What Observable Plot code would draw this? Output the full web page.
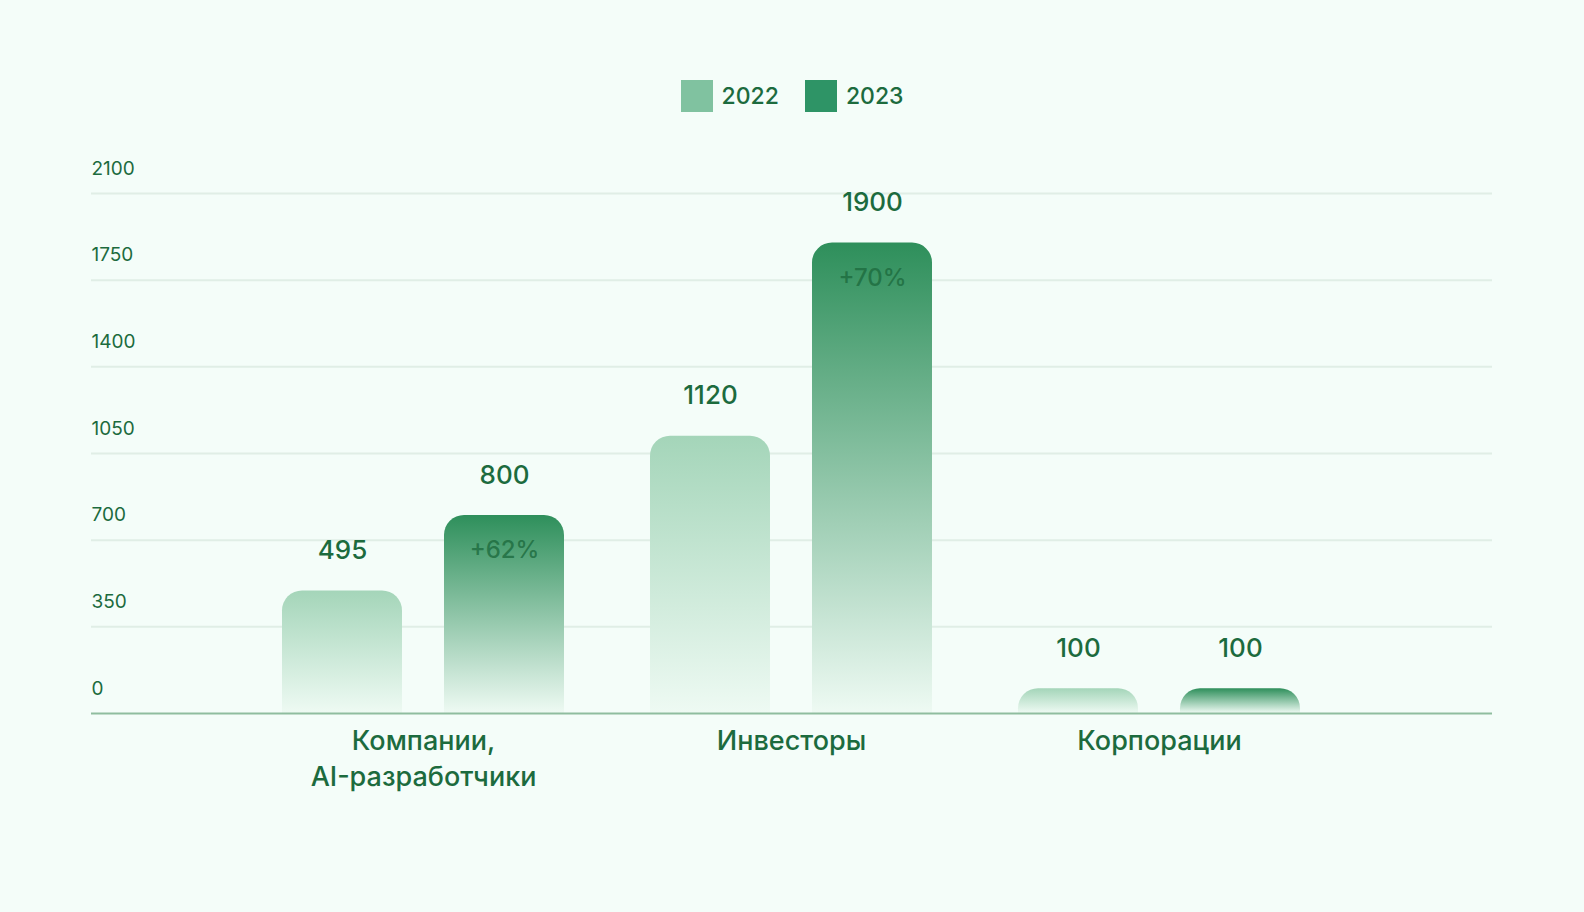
<!DOCTYPE html>
<html>
<head>
<meta charset="utf-8">
<script src="https://cdn.jsdelivr.net/npm/d3@7"></script>
<script src="https://cdn.jsdelivr.net/npm/@observablehq/plot@0.6"></script>
<style>
  html, body { margin: 0; padding: 0; background: #f4fdf9; width: 1584px; height: 912px; overflow: hidden; font-family: Inter, "Noto Sans", sans-serif; }
  #legend { height: 130px; box-sizing: border-box; padding-top: 80px; display: flex; justify-content: center; gap: 26px; }
  .item { display: flex; align-items: center; gap: 9px; height: 32px; font-size: 23px; font-weight: 500; color: #1c6b3e; }
  .sw { width: 32px; height: 32px; }
  #chart svg { display: block; }
</style>
</head>
<body>
<div id="legend"></div>
<div id="chart"></div>
<script>
const categories = ["Компании,\nAI-разработчики", "Инвесторы", "Корпорации"];
const years = ["2022", "2023"];
const yearColors = ["#80c2a0", "#2e9466"];
const values2022 = [495, 1120, 100];
const values2023 = [800, 1900, 100];
const growth2023 = ["+62%", "+70%", ""];
const yTicks = [0, 350, 700, 1050, 1400, 1750, 2100];

// legend
const legend = d3.select("#legend");
years.forEach((y, i) => {
  const it = legend.append("div").attr("class", "item");
  it.append("div").attr("class", "sw").style("background", yearColors[i]);
  it.append("span").text(y);
});

const rows2022 = categories.map((c, i) => ({category: c, value: values2022[i]}));
const rows2023 = categories.map((c, i) => ({category: c, value: values2023[i], growth: growth2023[i]}));

const textColor = "#1c6b3e";

const chart = Plot.plot({
  width: 1584,
  height: 782,
  marginTop: 63,
  marginBottom: 199,
  marginLeft: 91,
  marginRight: 92,
  style: {background: "transparent", fontFamily: "Inter, 'Noto Sans', sans-serif", color: textColor},
  x: {domain: categories, range: [239, 1343], padding: 0, label: null},
  y: {domain: [0, 2100], axis: null},
  marks: [
    Plot.ruleY(yTicks.filter(d => d > 0), {stroke: "#e0eee6", strokeWidth: 2}),
    Plot.barY(rows2022, {x: "category", y: "value", fill: "url(#g2022)", insetLeft: 43, insetRight: 205, ry1: 20}),
    Plot.barY(rows2023, {x: "category", y: "value", fill: "url(#g2023)", insetLeft: 205, insetRight: 43, ry1: 20}),
    Plot.ruleY([0], {stroke: "#8fbd9f", strokeWidth: 2}),
    Plot.text(yTicks, {y: d => d, text: d => String(d), frameAnchor: "left", textAnchor: "start", dy: -25, fontSize: 19, fontWeight: 400, fill: textColor}),
    Plot.text(rows2022, {x: "category", y: "value", text: d => String(d.value), dx: -81, dy: -40, fontSize: 26, fontWeight: 500, fill: textColor}),
    Plot.text(rows2023, {x: "category", y: "value", text: d => String(d.value), dx: 81, dy: -40, fontSize: 26, fontWeight: 500, fill: textColor}),
    Plot.text(rows2023.filter(d => d.growth), {x: "category", y: "value", text: "growth", dx: 81, dy: 35, fontSize: 24, fontWeight: 500, fill: "#1d6b3e", fillOpacity: 0.8}),
    Plot.axisX({tickSize: 0, tickPadding: 12, fontSize: 27, fontWeight: 500, lineHeight: 1.3, fill: textColor, label: null})
  ]
});

const svg = d3.select(chart);
const defs = svg.insert("defs", ":first-child");
const grads = [["g2022", "#a4d5b9", "#eefaf3"], ["g2023", "#2e8f5b", "#eefaf3"]];
grads.forEach(([id, c0, c1]) => {
  const g = defs.append("linearGradient").attr("id", id).attr("x1", 0).attr("y1", 0).attr("x2", 0).attr("y2", 1);
  g.append("stop").attr("offset", "0%").attr("stop-color", c0);
  g.append("stop").attr("offset", "100%").attr("stop-color", c1);
});

document.getElementById("chart").appendChild(chart);
</script>
</body>
</html>
